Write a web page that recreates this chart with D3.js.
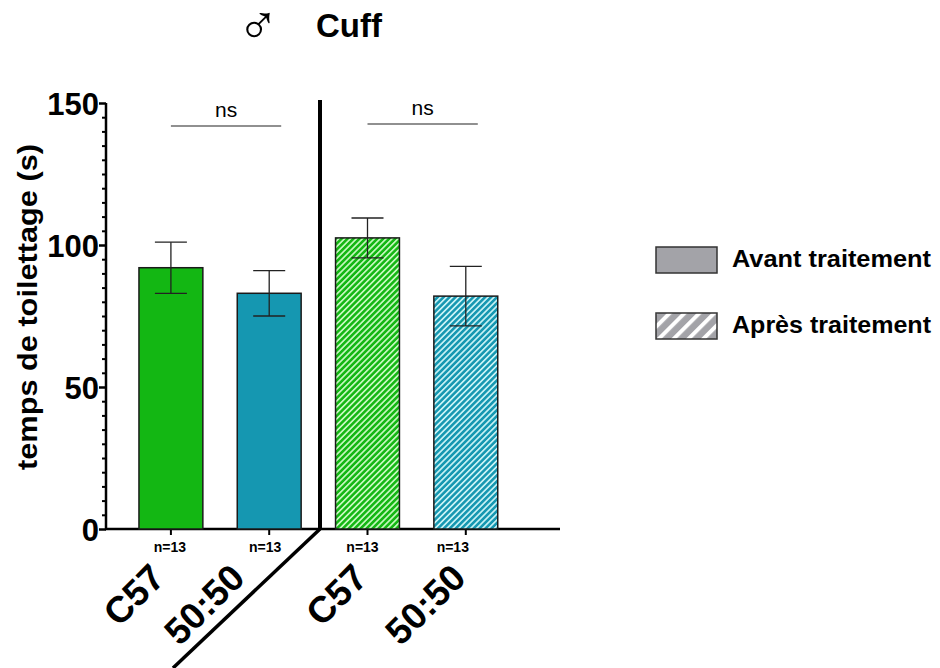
<!DOCTYPE html>
<html><head><meta charset="utf-8">
<script src="https://cdn.jsdelivr.net/npm/d3@7"></script>
<style>body{margin:0;background:#fff}svg{display:block}text{font-family:Arial,"Liberation Sans",sans-serif}</style>
</head><body><svg id="c" width="940" height="668"></svg>
<script>
const categories = ["C57", "50:50", "C57", "50:50"];
const groups = ["Avant traitement", "Avant traitement", "Après traitement", "Après traitement"];
const means = [92, 83, 102.5, 82];
const errors = [9, 8, 7, 10.5];
const nLabels = ["n=13", "n=13", "n=13", "n=13"];
const yTicks = [0, 50, 100, 150];
const sigLabels = ["ns", "ns"];
const legendLabels = ["Avant traitement", "Après traitement"];

const svg = d3.select("#c");
const colors = ["#13b713", "#1597b1", "#13b713", "#1597b1"];
const lightColors = ["#c4f7bd", "#c6f1f4"];

const defs = svg.append("defs");
function hatch(id, dark, light, size, sw) {
  const p = defs.append("pattern").attr("id", id).attr("patternUnits", "userSpaceOnUse")
    .attr("width", size).attr("height", size).attr("patternTransform", "rotate(45)");
  p.append("rect").attr("width", size).attr("height", size).attr("fill", dark);
  p.append("rect").attr("x", 0).attr("width", sw).attr("height", size).attr("fill", light);
}
hatch("hg", colors[0], lightColors[0], 4.2, 1.7);
hatch("hb", colors[1], lightColors[1], 4.2, 1.7);
hatch("hl", "#a3a3a8", "#ffffff", 10.5, 4);

const y = d3.scaleLinear().domain([0, 150]).range([529, 103]);
const x = d3.scaleBand().domain(d3.range(4)).range([119.3, 517.4]).paddingInner(0.35).paddingOuter(0.2);
const cx = i => x(i) + x.bandwidth() / 2;

// Y axis
const yAxis = d3.axisLeft(y).tickValues(yTicks).tickSize(7).tickFormat(d3.format("d"));
const ga = svg.append("g").attr("transform", "translate(106,0)").call(yAxis);
ga.select(".domain").attr("stroke", "#000").attr("stroke-width", 2.5).attr("d", `M0,${y(150)}V${y(0)}`);
ga.selectAll(".tick line").attr("stroke-width", 2.5);
ga.selectAll(".tick text").attr("font-size", 31).attr("font-weight", "bold").attr("x", -7).attr("dy", "0.36em")
  .attr("font-family", "Arial, 'Liberation Sans', sans-serif").attr("fill", "#000");
const gm = svg.append("g").attr("transform", "translate(106,0)")
  .call(d3.axisLeft(y).tickValues(d3.range(0, 151, 5).filter(v => v % 50 !== 0)).tickSize(4).tickFormat(""));
gm.select(".domain").remove();
gm.selectAll(".tick line").attr("stroke-width", 2);

// X axis line
svg.append("line").attr("x1", 105).attr("x2", 560).attr("y1", y(0)).attr("y2", y(0))
  .attr("stroke", "#000").attr("stroke-width", 2.5);
const gx = svg.append("g").attr("transform", `translate(0,${y(0)})`)
  .call(d3.axisBottom(x).tickSize(6).tickFormat(""));
gx.select(".domain").remove();
gx.selectAll(".tick line").attr("stroke-width", 2);

// Bars
const fills = [colors[0], colors[1], "url(#hg)", "url(#hb)"];
svg.append("g").selectAll("rect").data(means).join("rect")
  .attr("x", (d, i) => x(i)).attr("width", x.bandwidth())
  .attr("y", d => y(d)).attr("height", d => y(0) - y(d))
  .attr("fill", (d, i) => fills[i]).attr("stroke", "#1a1a1a").attr("stroke-width", 1.5);

// Error bars
const eb = svg.append("g").attr("stroke", "#222").attr("stroke-width", 1.3);
means.forEach((m, i) => {
  const c = cx(i);
  eb.append("line").attr("x1", c).attr("x2", c).attr("y1", y(m + errors[i])).attr("y2", y(m - errors[i]));
  eb.append("line").attr("x1", c - 16).attr("x2", c + 16).attr("y1", y(m + errors[i])).attr("y2", y(m + errors[i]));
  eb.append("line").attr("x1", c - 16).attr("x2", c + 16).attr("y1", y(m - errors[i])).attr("y2", y(m - errors[i]));
});

// Separator lines
svg.append("line").attr("x1", 320).attr("x2", 320).attr("y1", 100).attr("y2", y(0) + 1)
  .attr("stroke", "#000").attr("stroke-width", 4);
svg.append("line").attr("x1", 320).attr("x2", 173).attr("y1", y(0)).attr("y2", 668)
  .attr("stroke", "#000").attr("stroke-width", 3.5);

// Significance brackets
[[0, 1], [2, 3]].forEach((pr, k) => {
  const x1 = cx(pr[0]), x2 = cx(pr[1]) + 12;
  const yy = k === 0 ? 126 : 124;
  svg.append("line").attr("x1", x1).attr("x2", x2).attr("y1", yy).attr("y2", yy)
    .attr("stroke", "#222").attr("stroke-width", 1.2);
  svg.append("text").attr("x", (x1 + x2) / 2).attr("y", yy - 9).attr("text-anchor", "middle")
    .attr("font-size", 21).text(sigLabels[k]);
});

// n labels
const nNudge = [-1, -4, -5, -13];
svg.append("g").selectAll("text").data(nLabels).join("text")
  .attr("x", (d, i) => cx(i) + nNudge[i]).attr("y", 552).attr("text-anchor", "middle")
  .attr("font-size", 14).attr("font-weight", "bold").text(d => d);

// Category labels
const catNudge = [-4, -22.5, 2, 2];
svg.append("g").selectAll("text").data(categories).join("text")
  .attr("transform", (d, i) => `translate(${cx(i) + catNudge[i]},580) rotate(-45)`)
  .attr("text-anchor", "end").attr("font-size", 37).attr("font-weight", "bold").text(d => d);

// Y label
svg.append("text").attr("transform", "translate(37,307) rotate(-90)").attr("text-anchor", "middle")
  .attr("font-size", 27).attr("font-weight", "bold").attr("textLength", 326).attr("lengthAdjust", "spacingAndGlyphs")
  .text("temps de toilettage (s)");

// Title
svg.append("text").attr("x", 258).attr("y", 42).attr("text-anchor", "middle")
  .attr("font-size", 56).attr("font-weight", "bold").attr("font-family", "'DejaVu Sans'").text("♂");
svg.append("text").attr("x", 316).attr("y", 37).attr("font-size", 33).attr("font-weight", "bold").text("Cuff");

// Legend
const lg = svg.append("g");
legendLabels.forEach((l, i) => {
  const yy = 247 + i * 66;
  lg.append("rect").attr("x", 656).attr("y", yy).attr("width", 61).attr("height", 26)
    .attr("fill", i === 0 ? "#a3a3a8" : "url(#hl)").attr("stroke", "#333").attr("stroke-width", 1.5);
  lg.append("text").attr("x", 732).attr("y", yy + 20).attr("font-size", 24).attr("font-weight", "bold")
    .attr("textLength", 199).attr("lengthAdjust", "spacingAndGlyphs").text(l);
});
</script></body></html>
